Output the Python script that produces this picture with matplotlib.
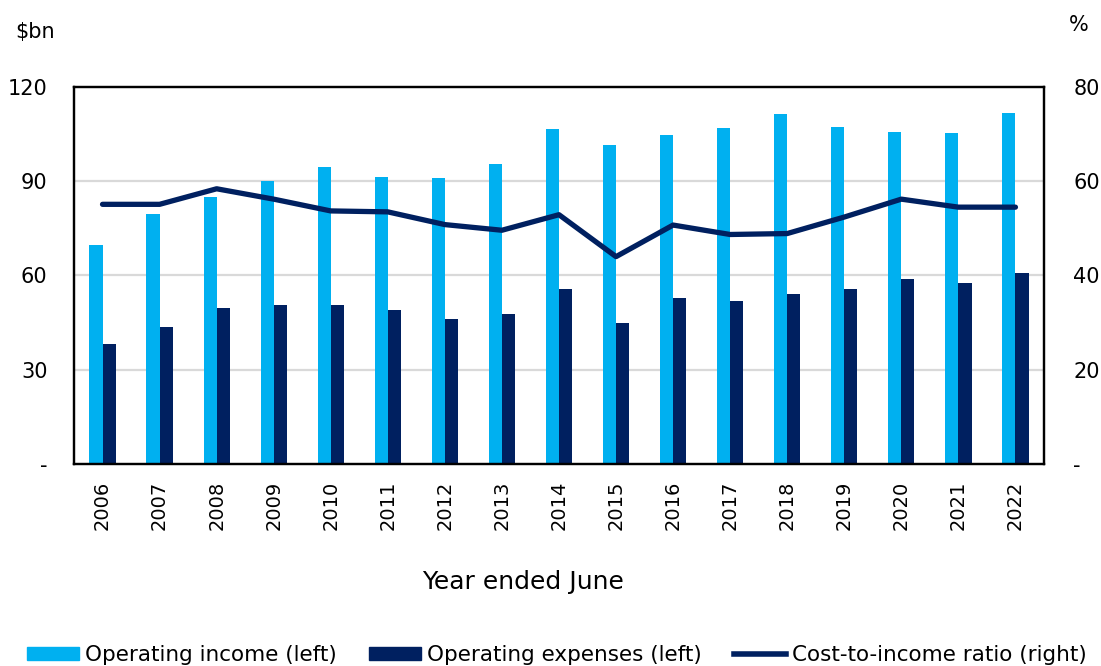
import matplotlib
matplotlib.use("Agg")
import matplotlib.pyplot as plt
import numpy as np
from matplotlib.lines import Line2D
from matplotlib.patches import Patch

YEARS = [str(y) for y in range(2006, 2023)]
INCOME = [69.7, 79.6, 84.9, 90.2, 94.6, 91.3, 91.0, 95.5, 106.5,
          101.5, 104.8, 106.8, 111.4, 107.3, 105.7, 105.2, 111.8]
EXPENSES = [38.2, 43.6, 49.6, 50.5, 50.5, 48.9, 46.0, 47.6, 55.8,
            44.8, 52.9, 51.8, 54.1, 55.8, 59.0, 57.5, 60.7]
COST_RATIO = [55.1, 55.1, 58.4, 56.2, 53.7, 53.5, 50.8, 49.6, 52.9,
              44.0, 50.7, 48.7, 48.9, 52.4, 56.2, 54.5, 54.5]

LEFT_TICKS = [0, 30, 60, 90, 120]
LEFT_LABELS = ["-", "30", "60", "90", "120"]
RIGHT_TICKS = [0, 20, 40, 60, 80]
RIGHT_LABELS = ["-", "20", "40", "60", "80"]

LIGHT = "#00B0F0"
NAVY = "#002060"

plt.rcParams["font.family"] = ["DejaVu Sans"]

fig = plt.figure(figsize=(11.01, 6.66), dpi=100)
ax = fig.add_axes([0.0672, 0.3033, 0.881, 0.5661])
ax2 = ax.twinx()

x = np.arange(len(YEARS))
w = 0.23
ax.bar(x - w / 2, INCOME, w, color=LIGHT, zorder=2)
ax.bar(x + w / 2, EXPENSES, w, color=NAVY, zorder=2)
ax2.plot(x, COST_RATIO, color=NAVY, lw=3.8, solid_capstyle="round", zorder=3)

ax.set_xlim(-0.5, len(YEARS) - 0.5)
ax.set_ylim(0, 120)
ax2.set_ylim(0, 80)
ax.set_yticks(LEFT_TICKS)
ax.set_yticklabels(LEFT_LABELS)
ax2.set_yticks(RIGHT_TICKS)
ax2.set_yticklabels(RIGHT_LABELS)
ax.set_xticks(x)
ax.set_xticklabels(YEARS, rotation=90)

for g in [30, 60, 90]:
    ax.axhline(g, color="#D9D9D9", lw=1.6, zorder=1)

for a in (ax, ax2):
    for s in a.spines.values():
        s.set_linewidth(1.6)
        s.set_color("black")
    a.tick_params(length=0, labelsize=15)
ax.tick_params(axis="y", pad=19)
ax2.tick_params(axis="y", pad=21)
ax.tick_params(axis="x", pad=12, labelsize=14)

fig.text(0.4746, 0.126, "Year ended June", fontsize=18, ha="center", va="center")
fig.text(0.014, 0.952, "$bn", fontsize=15, ha="left", va="center")
fig.text(0.9795, 0.962, "%", fontsize=15, ha="center", va="center")

handles = [
    Patch(color=LIGHT, label="Operating income (left)"),
    Patch(color=NAVY, label="Operating expenses (left)"),
    Line2D([0], [0], color=NAVY, lw=4, label="Cost-to-income ratio (right)"),
]
fig.legend(handles=handles, loc="center", bbox_to_anchor=(0.506, 0.016),
           ncol=3, frameon=False, fontsize=15.5, handlelength=2.4,
           handleheight=0.55, handletextpad=0.3, columnspacing=1.5,
           borderpad=0, borderaxespad=0)

fig.savefig("out.png", dpi=100)
